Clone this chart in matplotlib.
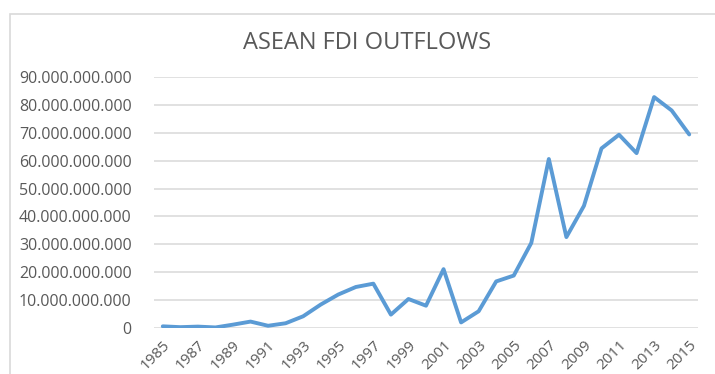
import matplotlib
matplotlib.use("Agg")
import matplotlib.pyplot as plt
import matplotlib.ticker as mticker
from matplotlib.patches import Rectangle

years = list(range(1985, 2016))
# ASEAN FDI outflows, in US dollars
outflows = [0.6e9, 0.3e9, 0.5e9, 0.2e9, 1.2e9, 2.3e9, 0.8e9, 1.7e9, 4.2e9, 8.4e9,
            12.0e9, 14.7e9, 15.9e9, 4.8e9, 10.4e9, 8.0e9, 21.1e9, 2.0e9, 6.0e9, 16.7e9,
            18.8e9, 30.5e9, 60.6e9, 32.6e9, 43.8e9, 64.4e9, 69.3e9, 62.7e9, 82.8e9, 78.0e9,
            69.4e9]
tick_years = years[::2]
title = "ASEAN FDI OUTFLOWS"

plt.rcParams['font.family'] = ['Open Sans', 'DejaVu Sans']
text_col = '#595959'
grid_col = '#D9D9D9'

fig = plt.figure(figsize=(7.15, 3.74), dpi=100)
# chart frame, cut off on the right and bottom like the screenshot
fig.patches.append(Rectangle((10 / 715, -0.1), 1.2, 1.1 - 14 / 374,
                             transform=fig.transFigure, fill=False,
                             edgecolor=grid_col, lw=1.2))

ax = fig.add_axes([154 / 715, 1 - 328 / 374, 544 / 715, 251 / 374])
ax.plot(years, outflows, color='#5B9BD5', lw=2.8, solid_joinstyle='round',
        solid_capstyle='round', zorder=3)

ax.set_xlim(1984.5, 2015.5)
ax.set_ylim(0, 90e9)
ax.yaxis.set_major_locator(mticker.MultipleLocator(10e9))
ax.yaxis.set_major_formatter(mticker.FuncFormatter(lambda v, p: f"{int(round(v)):,}".replace(",", ".")))
ax.grid(axis='y', color=grid_col, lw=1.1)
ax.set_axisbelow(True)
for s in ax.spines.values():
    s.set_visible(False)

ax.set_xticks(tick_years)
ax.set_xticklabels([str(y) for y in tick_years], rotation=45, ha='right',
                   rotation_mode='anchor')
ax.tick_params(axis='both', length=0, colors=text_col)
ax.tick_params(axis='y', pad=16, labelsize=11.5)
ax.tick_params(axis='x', pad=7, labelsize=11)

fig.text(367 / 715, 1 - 43 / 374, title, ha='center', va='center',
         fontsize=17, color=text_col)

fig.savefig("out.png", dpi=100)
